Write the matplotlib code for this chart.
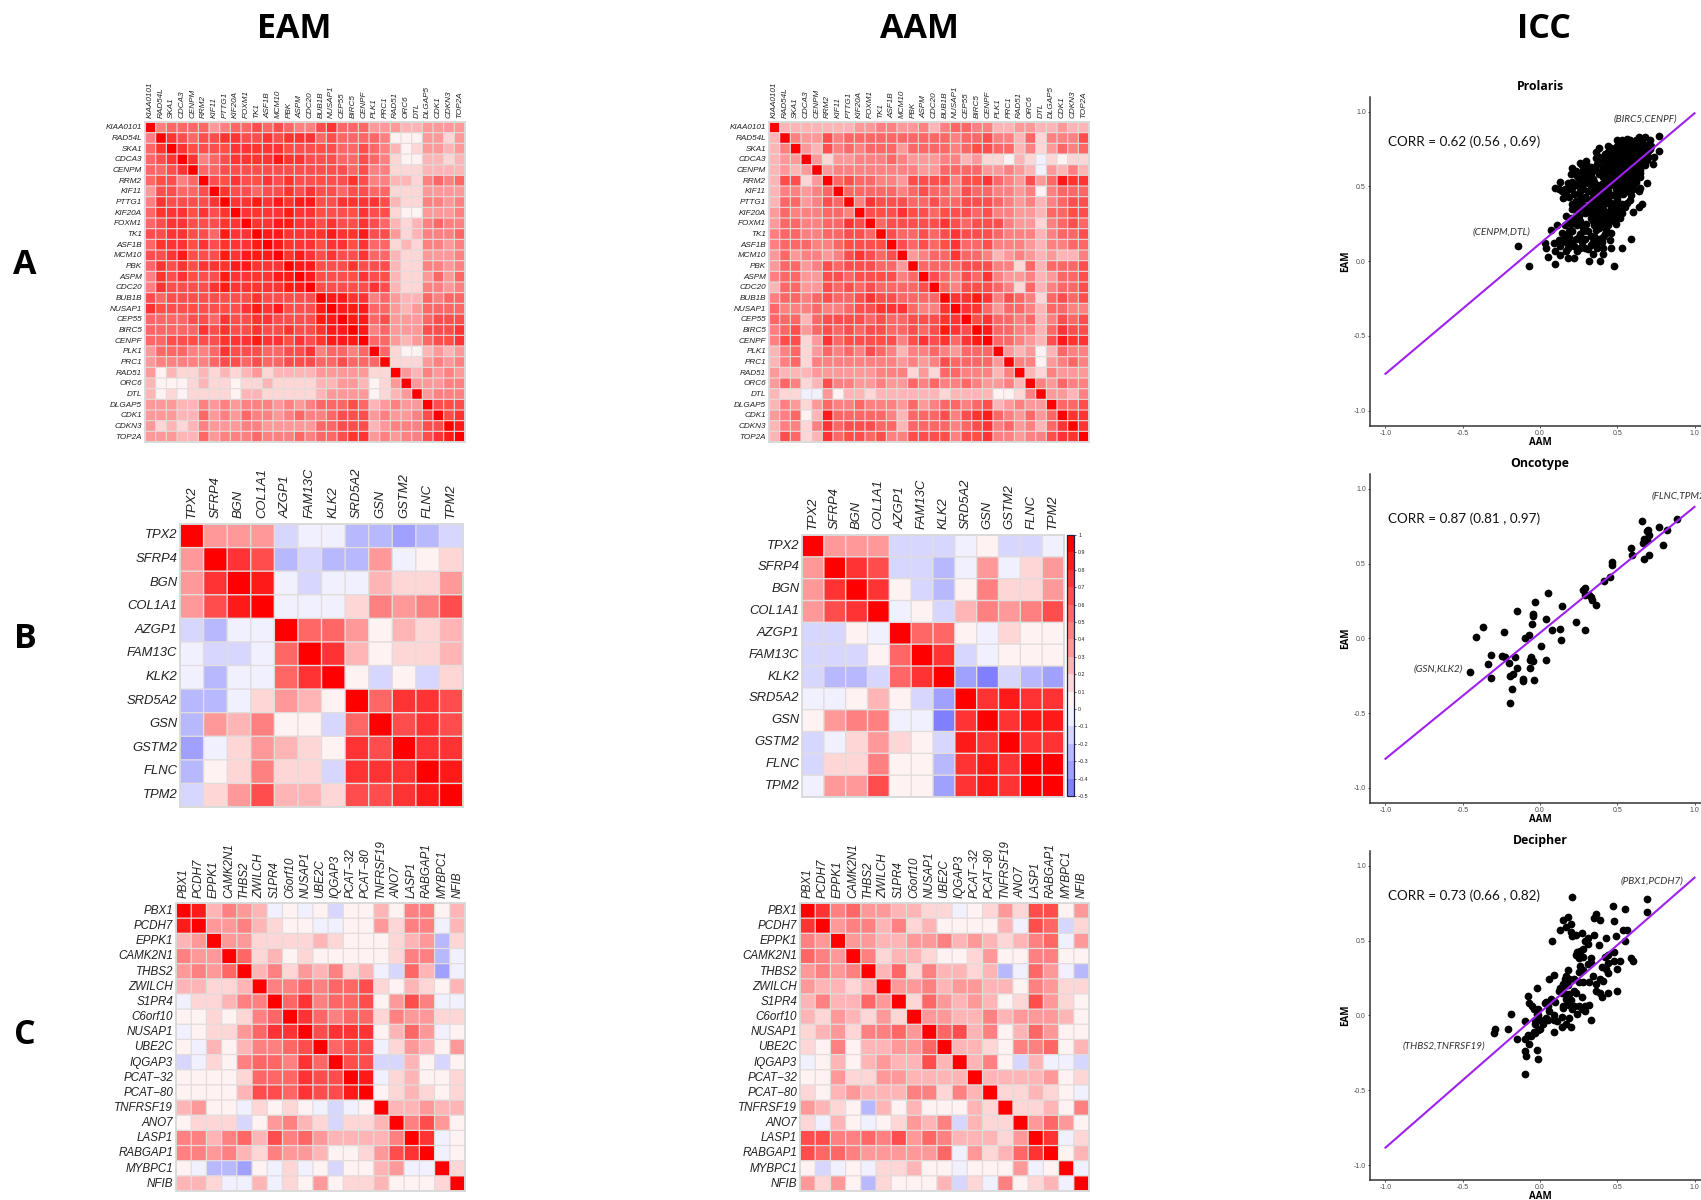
import numpy as np
import matplotlib
matplotlib.use('Agg')
import matplotlib.pyplot as plt
from matplotlib.colors import ListedColormap, BoundaryNorm
from matplotlib.cm import ScalarMappable
from matplotlib.transforms import ScaledTranslation

W, H = 1701, 1200

genes_a = ['KIAA0101', 'RAD54L', 'SKA1', 'CDCA3', 'CENPM', 'RRM2', 'KIF11', 'PTTG1', 'KIF20A', 'FOXM1',
           'TK1', 'ASF1B', 'MCM10', 'PBK', 'ASPM', 'CDC20', 'BUB1B', 'NUSAP1', 'CEP55', 'BIRC5',
           'CENPF', 'PLK1', 'PRC1', 'RAD51', 'ORC6', 'DTL', 'DLGAP5', 'CDK1', 'CDKN3', 'TOP2A']
genes_b = ['TPX2', 'SFRP4', 'BGN', 'COL1A1', 'AZGP1', 'FAM13C', 'KLK2', 'SRD5A2', 'GSN', 'GSTM2', 'FLNC', 'TPM2']
genes_c = ['PBX1', 'PCDH7', 'EPPK1', 'CAMK2N1', 'THBS2', 'ZWILCH', 'S1PR4', 'C6orf10', 'NUSAP1', 'UBE2C',
           'IQGAP3', 'PCAT\u221232', 'PCAT\u221280', 'TNFRSF19', 'ANO7', 'LASP1', 'RABGAP1', 'MYBPC1', 'NFIB']

# correlations in tenths, rounded down to the colour bin
eam_a = [
    [9,4,5,5,5,5,3,4,5,5,6,5,6,5,4,4,6,7,5,5,5,3,3,3,2,2,3,3,3,3],
    [4,9,7,6,5,6,6,7,7,6,6,7,6,7,7,7,5,6,5,5,5,5,4,0,0,0,3,3,1,3],
    [5,7,9,7,6,6,6,6,7,7,7,7,7,6,6,6,6,6,5,5,6,5,4,2,0,1,3,3,2,3],
    [5,6,7,9,7,4,5,6,7,7,7,7,8,7,7,6,6,6,5,5,6,5,4,1,0,0,2,2,1,2],
    [5,5,6,7,9,5,5,6,6,6,6,6,6,6,6,6,6,6,6,5,6,4,4,1,1,1,2,2,2,2],
    [5,6,6,4,5,9,6,6,7,6,6,7,6,7,6,6,6,6,6,7,6,4,4,2,2,1,4,5,4,5],
    [3,6,6,5,5,6,9,7,6,6,5,6,6,7,6,7,6,6,5,6,6,5,5,1,1,1,3,3,3,3],
    [4,7,6,6,6,6,7,9,7,7,8,7,8,7,8,8,6,6,7,7,7,7,6,2,1,1,4,4,3,4],
    [5,7,7,7,6,7,6,7,9,7,7,7,7,8,7,7,6,6,6,6,7,6,6,1,0,0,3,3,3,4],
    [5,6,7,7,6,6,6,7,7,9,7,7,8,8,7,7,6,7,6,6,7,6,5,2,1,2,4,5,4,4],
    [6,6,7,7,6,6,5,8,7,7,9,8,8,7,7,7,7,8,7,7,8,6,6,3,1,2,4,4,4,5],
    [5,7,7,7,6,7,6,7,7,7,8,9,8,7,7,7,6,7,7,6,7,5,5,1,2,1,4,4,3,4],
    [6,6,7,8,6,6,6,8,7,8,8,8,9,7,8,7,6,7,6,6,7,5,5,2,1,1,3,3,3,4],
    [5,7,6,7,6,7,7,7,8,8,7,7,7,9,8,8,6,6,6,7,6,6,6,2,1,1,4,4,3,4],
    [4,7,6,7,6,6,6,8,7,7,7,7,8,8,9,8,6,6,6,6,7,6,6,2,1,1,3,5,3,5],
    [4,7,6,6,6,6,7,8,7,7,7,7,7,8,8,9,6,6,6,6,6,7,6,2,1,1,4,4,3,4],
    [6,5,6,6,6,6,6,6,6,6,7,6,6,6,6,6,9,8,8,7,7,4,5,3,2,2,5,4,5,5],
    [7,6,6,6,6,6,6,6,6,7,8,7,8,6,6,6,8,9,8,8,8,5,5,3,2,3,5,5,5,5],
    [5,5,5,5,6,6,5,7,6,6,7,7,6,6,6,6,8,8,9,8,8,5,6,3,3,3,5,6,6,6],
    [5,5,5,5,5,7,6,7,6,6,7,6,6,7,6,6,7,8,8,9,8,4,5,3,3,3,6,6,6,7],
    [5,5,6,6,6,6,6,7,7,7,8,7,7,6,7,6,7,8,8,8,9,5,5,3,2,3,5,6,6,7],
    [3,5,5,5,4,4,5,7,6,6,6,5,5,6,6,7,4,5,5,4,5,9,5,1,0,0,2,3,2,3],
    [3,4,4,4,4,4,5,6,6,5,6,5,5,6,6,6,5,5,6,5,5,5,9,1,1,1,3,4,3,4],
    [3,0,2,1,1,2,1,2,1,2,3,1,2,2,2,2,3,3,3,3,3,1,1,9,3,2,4,3,4,3],
    [2,0,0,0,1,2,1,1,0,1,1,2,1,1,1,1,2,2,3,3,2,0,1,3,9,3,3,3,4,4],
    [2,0,1,0,1,1,1,1,0,2,2,1,1,1,1,1,2,3,3,3,3,0,1,2,3,9,3,4,4,4],
    [3,3,3,2,2,4,3,4,3,4,4,4,3,4,3,4,5,5,5,6,5,2,3,4,3,3,9,6,6,6],
    [3,3,3,2,2,5,3,4,3,5,4,4,3,4,5,4,4,5,6,6,6,3,4,3,3,4,6,9,6,7],
    [3,1,2,1,2,4,3,3,3,4,4,3,3,3,3,3,5,5,6,6,6,2,3,4,4,4,6,6,9,8],
    [3,3,3,2,2,5,3,4,4,4,5,4,4,4,5,4,5,5,6,7,7,3,4,3,4,4,6,7,8,9],
]
aam_a = [
    [9,2,2,2,2,2,2,2,3,3,4,4,3,3,4,2,4,5,5,4,4,2,2,3,3,2,2,3,2,2],
    [2,9,4,3,3,6,4,5,5,5,5,5,5,5,5,5,5,4,5,5,6,4,4,2,5,1,4,4,4,6],
    [2,4,9,3,2,6,4,5,4,5,5,5,3,5,5,5,5,4,5,6,6,5,5,2,4,1,3,5,4,5],
    [2,3,3,9,3,1,3,3,4,4,4,5,4,3,3,3,4,4,2,3,1,1,0,2,1,-1,1,0,1,1],
    [2,3,2,3,9,3,4,4,4,4,4,4,4,4,3,3,5,5,5,5,3,3,4,3,2,-1,3,2,4,2],
    [2,6,6,1,3,9,5,6,5,5,4,4,3,6,6,6,6,4,6,6,7,5,4,3,6,3,5,8,7,7],
    [2,4,4,3,4,5,9,5,5,5,5,5,4,5,6,5,5,4,6,5,5,4,4,3,4,0,4,5,5,5],
    [2,5,5,3,4,6,5,9,4,7,6,6,6,5,5,6,5,5,6,6,6,5,4,3,4,2,4,5,6,6],
    [3,5,4,4,4,5,5,4,9,6,6,6,7,6,6,5,6,6,6,5,6,4,4,3,3,2,5,5,6,6],
    [3,5,5,4,4,5,5,7,6,9,5,6,6,6,6,6,7,6,5,6,6,6,4,3,3,1,4,5,6,5],
    [4,5,5,4,4,5,5,6,6,5,9,6,5,5,6,5,6,7,6,6,6,5,4,4,4,2,4,5,5,6],
    [4,5,5,5,4,4,5,6,6,6,6,9,6,5,6,5,6,7,5,5,6,4,4,4,3,2,4,4,5,5],
    [3,5,3,4,4,3,4,6,7,6,5,6,9,3,4,5,5,7,5,5,4,2,3,4,3,2,3,2,2,4],
    [3,5,5,3,4,6,5,6,6,6,5,5,3,9,5,5,5,5,6,6,6,4,4,1,5,2,5,5,5,6],
    [4,5,5,3,3,6,6,5,6,6,6,6,4,5,9,6,5,4,6,5,7,4,3,3,4,2,3,5,5,6],
    [2,5,5,3,3,6,5,6,5,6,5,5,5,5,6,9,5,4,6,6,6,5,4,1,5,2,4,5,5,6],
    [4,5,5,4,5,6,5,5,6,7,6,6,5,5,5,5,9,7,7,8,7,4,6,5,4,1,5,6,5,6],
    [5,4,4,4,5,4,4,5,6,6,7,7,7,5,4,4,7,9,7,7,5,3,5,5,4,2,5,5,4,4],
    [5,5,5,2,5,6,6,6,6,5,6,5,5,6,6,6,7,7,9,6,7,5,5,4,5,2,4,6,5,6],
    [4,5,6,3,5,6,5,6,5,6,6,5,5,6,5,6,8,7,6,9,8,5,5,4,4,2,5,7,6,6],
    [4,6,6,1,3,7,5,6,6,6,6,6,4,6,7,6,7,5,7,8,9,5,5,4,3,2,6,8,7,7],
    [2,4,5,1,3,5,4,5,4,6,5,4,2,4,4,5,4,3,5,5,5,9,3,2,3,0,2,5,4,4],
    [2,4,5,1,4,4,4,4,4,4,4,4,3,4,3,4,6,5,5,5,5,3,9,4,4,0,3,4,5,4],
    [3,2,2,2,3,3,3,3,3,3,4,4,4,1,3,1,5,5,4,4,4,2,4,9,2,1,4,3,3,3],
    [3,5,4,1,2,6,4,4,3,3,4,3,3,5,4,5,4,4,5,4,3,3,4,2,9,4,3,5,4,4],
    [2,1,1,-1,-1,3,0,2,2,1,2,2,2,2,2,2,1,2,2,2,2,0,0,1,4,9,3,3,2,4],
    [2,4,3,1,3,5,4,4,5,4,4,4,3,5,3,4,5,5,4,5,6,2,3,4,3,3,9,5,5,6],
    [3,4,5,0,2,8,5,5,5,5,5,4,2,5,5,5,6,4,6,7,8,5,4,3,5,3,5,9,7,7],
    [2,4,4,1,4,7,5,6,6,6,5,5,2,5,5,5,5,4,5,6,7,4,5,3,4,2,5,7,9,7],
    [2,6,5,1,2,7,5,6,6,5,6,4,4,6,6,6,6,4,6,6,7,4,4,3,4,4,6,7,7,9],
]
eam_b = [
    [9,3,3,3,-2,-1,-1,-3,-3,-4,-3,-2],
    [3,9,7,6,-3,-2,-3,-3,3,-1,0,1],
    [3,7,9,8,-1,-2,-1,-1,2,1,1,3],
    [3,6,8,9,-1,-1,-1,1,4,3,4,6],
    [-2,-3,-1,-1,9,5,5,3,0,2,1,2],
    [-1,-2,-2,-1,5,9,7,2,0,1,1,2],
    [-1,-3,-1,-1,5,7,9,0,-2,0,-2,1],
    [-3,-3,-1,1,3,2,0,9,5,7,7,6],
    [-3,3,2,4,0,0,-2,5,9,6,7,6],
    [-4,-1,1,3,2,1,0,7,6,9,7,7],
    [-3,0,1,4,1,1,-2,7,7,7,9,8],
    [-2,1,3,6,2,2,1,6,6,7,8,9],
]
aam_b = [
    [9,3,3,3,-2,-2,-2,-1,0,-2,-2,-1],
    [3,9,7,6,-2,-2,-3,-1,3,-1,1,3],
    [3,7,9,7,0,-2,-3,0,4,1,1,3],
    [3,6,7,9,-1,0,-2,2,4,3,4,6],
    [-2,-2,0,-1,9,5,5,0,-1,1,0,0],
    [-2,-2,-2,0,5,9,7,-2,-1,0,0,0],
    [-2,-3,-3,-2,5,7,9,-4,-5,-2,-3,-4],
    [-1,-1,0,2,0,-2,-4,9,7,8,7,7],
    [0,3,4,4,-1,-1,-5,7,9,7,8,8],
    [-2,-1,1,3,1,0,-2,8,7,9,7,7],
    [-2,1,1,4,0,0,-3,7,8,7,9,9],
    [-1,3,3,6,0,0,-4,7,8,7,9,9],
]
eam_c = [
    [9,8,2,4,3,2,-1,0,-1,0,-2,0,0,2,0,4,4,0,2],
    [8,9,3,3,4,2,1,0,0,-1,-1,0,0,3,1,4,4,-1,2],
    [2,3,9,3,3,1,1,1,1,2,1,0,0,0,1,2,3,-3,1],
    [4,3,3,9,5,1,2,0,1,0,0,0,0,0,1,4,4,-3,-1],
    [3,4,3,5,9,2,4,1,3,2,4,1,2,-1,-2,5,2,-4,-1],
    [2,2,1,1,2,9,4,4,5,4,5,5,6,1,0,2,1,0,2],
    [-1,1,1,2,4,4,9,5,7,4,5,5,6,0,3,6,4,-1,-1],
    [0,0,1,0,1,4,5,9,7,5,4,5,5,1,4,3,3,1,1],
    [-1,0,1,1,3,5,7,7,9,6,7,7,7,0,2,5,3,-1,0],
    [0,-1,2,0,2,4,4,5,6,9,5,6,6,-1,1,3,2,0,3],
    [-2,-1,1,0,4,5,5,4,7,5,9,6,6,-2,-2,2,0,-2,0],
    [0,0,0,0,1,5,5,5,7,6,6,9,8,-1,1,2,0,0,1],
    [0,0,0,0,2,6,6,5,7,6,6,8,9,0,1,2,1,0,1],
    [2,3,0,0,-1,1,0,1,0,-1,-2,-1,0,9,2,2,3,2,2],
    [0,1,1,1,-2,0,3,4,2,1,-2,1,1,2,9,4,6,3,0],
    [4,4,2,4,5,2,6,4,5,3,2,2,2,2,4,9,7,-1,0],
    [4,4,3,4,2,1,4,3,3,2,0,0,1,3,6,7,9,-1,0],
    [0,-1,-3,-3,-4,0,-1,1,-1,0,-2,0,0,2,3,-1,-1,9,1],
    [2,2,1,-1,-1,2,-1,1,0,3,0,1,1,2,0,0,0,1,9],
]
aam_c = [
    [9,7,4,5,3,3,2,2,1,1,-1,0,1,3,1,6,6,0,3],
    [7,9,3,4,4,2,4,1,2,0,0,0,0,2,-1,6,5,-2,1],
    [4,3,9,3,3,2,2,3,3,4,2,3,2,1,2,4,5,-1,3],
    [5,4,3,9,4,1,2,2,1,0,0,1,3,0,0,4,4,0,0],
    [3,4,3,4,9,2,5,1,4,2,2,1,2,-3,-1,5,3,-1,-3],
    [3,2,2,1,2,9,3,3,4,2,3,3,2,2,0,4,3,1,1],
    [2,4,2,2,5,3,9,1,5,3,2,3,2,0,1,6,3,1,0],
    [2,1,3,2,1,3,1,9,3,3,2,2,4,2,3,3,3,2,0],
    [1,2,3,1,4,4,5,3,9,5,6,2,4,0,2,5,3,0,0],
    [1,0,4,0,2,2,3,3,5,9,2,2,1,0,4,4,5,0,2],
    [-1,0,2,0,2,3,2,2,6,2,9,2,4,0,-2,2,-1,-1,-2],
    [0,0,3,1,1,3,3,2,2,2,2,9,2,2,2,2,3,0,1],
    [1,0,2,3,2,2,2,4,4,1,4,2,9,1,1,2,1,0,-1],
    [3,2,1,0,-3,2,0,2,0,0,0,2,1,9,1,1,2,0,4],
    [1,-1,2,0,-1,0,1,3,2,4,-2,2,1,1,9,3,5,3,0],
    [6,6,4,4,5,4,6,3,5,4,2,2,2,1,3,9,7,-1,1],
    [6,5,5,4,3,3,3,3,3,5,-1,3,1,2,5,7,9,0,2],
    [0,-2,-1,0,-1,1,1,2,0,0,-1,0,0,0,3,-1,0,9,-1],
    [3,1,3,0,-3,1,0,0,0,2,-2,1,-1,4,0,1,2,-1,9],
]

bin_colors = ['#8080FF', '#A0A0FF', '#B8B8FF', '#D6D6FF', '#F0F0FF',
              '#FFF2F2', '#FFD6D6', '#FFB5B5', '#FF9999', '#FF8080',
              '#FF6666', '#FF4D4D', '#FF3333', '#FF1A1A', '#FF0000']
bin_edges = list(range(-5, 11))
bar_labels = ['\u22120.5', '\u22120.4', '\u22120.3', '\u22120.2', '\u22120.1', '0', '0.1', '0.2',
              '0.3', '0.4', '0.5', '0.6', '0.7', '0.8', '0.9', '1']

# (AAM, EAM) pairs of each gene panel
prolaris = [
    (-.14,.10),(-.07,-.03),(.10,-.02),(.32,0),(.39,0),(.48,-.03),(.53,.09),(.59,.15),(.05,.03),(.10,.07),
    (.04,.09),(.03,.12),(.09,.12),(.07,.21),(.11,.24),(.13,.04),(.18,.02),(.22,.02),(.24,.07),(.18,.09),
    (.17,.13),(.14,.19),(.19,.20),(.21,.20),(.23,.15),(.27,.13),(.31,.08),(.34,.05),(.37,.09),(.41,.09),
    (.41,.05),(.46,.09),(.45,.14),(.46,.19),(.41,.16),(.37,.13),(.33,.17),(.28,.23),(.28,.20),(.36,.21),
    (.43,.21),(.49,.25),(.35,.24),(.40,.25),(.22,.28),(.25,.30),(.17,.30),(.29,.32),(.35,.30),(.42,.30),
    (.47,.30),(.53,.32),(.60,.33),(.64,.36),(.66,.38),(.56,.39),(.53,.38),(.49,.37),(.43,.39),(.37,.39),
    (.32,.35),(.25,.35),(.21,.38),(.24,.37),(.15,.42),(.19,.43),(.25,.45),(.30,.42),(.10,.49),(.13,.53),
    (.16,.48),(.19,.48),(.23,.51),(.28,.48),(.31,.47),(.41,.44),(.47,.44),(.54,.45),(.59,.44),(.64,.47),
    (.65,.49),(.69,.52),(.58,.49),(.52,.49),(.45,.51),(.39,.51),(.33,.52),(.28,.54),(.24,.57),(.20,.58),
    (.21,.62),(.26,.66),(.30,.67),(.28,.61),(.32,.61),(.36,.69),(.38,.76),(.36,.73),(.40,.68),(.41,.63),
    (.38,.58),(.43,.56),(.47,.57),(.52,.57),(.57,.57),(.63,.57),(.65,.61),(.73,.65),(.74,.70),(.77,.74),
    (.77,.84),(.68,.83),(.64,.83),(.53,.81),(.50,.81),(.45,.76),(.59,.78),(.65,.78),(.69,.78),(.72,.77),
    (.47,.72),(.52,.74),(.56,.72),(.61,.73),(.67,.72),(.70,.70),(.44,.69),(.50,.68),(.54,.69),(.59,.68),
    (.65,.68),(.68,.64),(.45,.64),(.51,.63),(.56,.63),(.61,.62),(.44,.60),(.50,.60),(.55,.60),(.60,.59),
    (.27,.58),(.30,.56),(.33,.58),(.35,.62),(.31,.52),(.36,.47),(.34,.42),(.39,.35),(.44,.33),(.40,.30),
    (.36,.34),(.33,.29),(.37,.25),(.42,.26),(.46,.36),(.50,.42),(.55,.50),(.62,.53),(.48,.52),(.42,.48),
    (.26,.40),(.30,.37),(.20,.29),(.24,.24),(.30,.25),(.16,.17),(.20,.12),(.25,.16),(.29,.15),(.34,.13),
    (.38,.15),(.42,.18),(.35,.17),(.22,.10),(.26,.09),(.13,.10),(.46,.76),(.50,.77),(.55,.78),(.60,.76),
    (.63,.80),(.49,.70),(.57,.70),(.63,.66),(.52,.66),(.48,.66),(.46,.61),(.58,.65),(.55,.55),(.49,.55),
    (.42,.53),(.62,.60),(.66,.75),(.70,.74),(.58,.81),(.54,.75),(.42,.66),(.40,.60),
    (.51,.80),(.56,.82),(.61,.79),(.62,.81),(.66,.80),(.71,.81),(.44,.77),(.48,.75),(.51,.76),(.57,.77),
    (.58,.74),(.62,.76),(.64,.75),(.68,.76),(.71,.75),(.42,.72),(.44,.73),(.49,.71),(.50,.73),(.54,.72),
    (.58,.71),(.60,.73),(.63,.71),(.65,.73),(.69,.71),(.38,.70),(.42,.68),(.46,.67),(.48,.69),(.52,.68),
    (.56,.67),(.57,.69),(.62,.68),(.67,.67),(.69,.68),(.27,.64),(.30,.65),(.33,.63),(.37,.65),(.43,.63),
    (.47,.64),(.49,.65),(.53,.64),(.54,.62),(.58,.63),(.60,.65),(.64,.63),(.66,.65),(.23,.60),(.30,.59),
    (.33,.60),(.36,.61),(.42,.59),(.48,.61),(.52,.60),(.58,.60),(.62,.62),(.65,.59),(.25,.55),(.31,.57),
    (.34,.55),(.41,.56),(.45,.55),(.50,.57),(.54,.56),(.59,.55),(.61,.56),(.65,.56),(.18,.52),(.21,.53),
    (.27,.51),(.35,.53),(.37,.51),(.41,.52),(.44,.53),(.50,.51),(.53,.52),(.57,.53),(.60,.51),(.12,.48),
    (.14,.47),(.21,.49),(.26,.47),(.33,.48),(.39,.49),(.44,.47),(.49,.48),(.56,.47),(.60,.48),(.17,.44),
    (.22,.45),(.29,.43),(.34,.45),(.38,.44),(.44,.45),(.50,.44),(.52,.46),(.23,.40),(.27,.41),(.33,.39),
    (.36,.41),(.40,.40),(.44,.41),(.46,.39),(.50,.40),(.58,.41),(.21,.35),(.28,.37),(.34,.36),(.38,.37),
    (.41,.35),(.47,.34),(.51,.35),(.55,.36),(.24,.32),(.31,.33),(.34,.32),(.39,.31),(.43,.32),(.45,.31),
    (.50,.33),(.19,.28),(.26,.27),(.34,.27),(.36,.28),(.39,.28),(.45,.27),(.48,.28),(.52,.29),(.16,.24),
    (.20,.25),(.36,.23),(.38,.22),(.44,.24),(.15,.14),(.19,.16),(.26,.18),(.31,.20),(.40,.13),(.33,.11),
    (.29,.09),(.17,.07),(.12,.14),
]
oncotype = [
    (-.455,-.225),(-.416,.011),(-.366,.073),(-.235,.04),(-.151,.185),(-.032,.243),(.05,.305),(-.043,.163),
    (-.047,.147),(-.05,.094),(.037,.129),(.144,.218),(.231,.109),(.08,.053),(.131,.06),(.136,-.009),
    (.291,.056),(-.071,.022),(-.099,0),(.009,-.049),(.041,-.147),(-.315,-.114),(-.336,-.169),(-.319,-.267),
    (-.246,-.118),(-.226,-.127),(-.162,-.122),(-.198,-.165),(-.151,-.2),(-.058,-.127),(-.065,-.145),
    (-.043,-.149),(-.065,-.2),(-.177,-.241),(-.194,-.252),(-.11,-.274),(-.11,-.287),(-.041,-.281),
    (-.181,-.341),(-.194,-.434),(.28,.325),(.293,.334),(.291,.29),(.319,.29),(.328,.274),(.334,.256),
    (.36,.223),(.412,.385),(.45,.412),(.463,.514),(.463,.494),(.59,.606),(.595,.557),(.659,.784),
    (.675,.532),(.703,.557),(.696,.728),(.692,.717),(.707,.69),(.672,.666),(.664,.641),(.694,.655),
    (.769,.744),(.819,.728),(.888,.797),(.795,.628),
]
decipher = [
    (.21,.79),(.47,.73),(.55,.71),(.69,.78),(.69,.69),(.36,.68),(.35,.65),(.39,.64),(.48,.63),(.18,.66),
    (.15,.64),(.20,.61),(.17,.59),(.13,.57),(.20,.56),(.21,.53),(.23,.54),(.27,.55),(.35,.54),(.43,.52),
    (.49,.53),(.54,.57),(.56,.57),(.55,.50),(.08,.50),(.31,.52),(.29,.50),(.31,.48),(.38,.47),(.28,.44),
    (.26,.43),(.24,.42),(.23,.40),(.25,.38),(.28,.39),(.25,.41),(.33,.38),(.42,.39),(.44,.40),(.48,.42),
    (.31,.34),(.33,.35),(.26,.33),(.44,.35),(.48,.36),(.52,.36),(.59,.38),(.60,.36),(.40,.32),(.43,.31),
    (.50,.31),(.44,.28),(.25,.29),(.28,.30),(.18,.30),(.34,.26),(.09,.27),(.06,.24),(.17,.26),(.16,.24),
    (.19,.24),(.15,.21),(.15,.19),(.22,.24),(.25,.22),(.28,.22),(.32,.22),(.36,.21),(.39,.24),(.41,.23),
    (-.02,.18),(.12,.16),(.14,.15),(.22,.16),(.23,.15),(.27,.12),(.36,.16),(.39,.15),(.40,.12),(.44,.15),
    (.50,.16),(-.08,.13),(.07,.11),(.17,.11),(.18,.09),(.19,.07),(.10,.09),(.04,.09),(-.07,.08),(-.05,.06),
    (-.04,.04),(-.01,.04),(.03,.08),(.05,.06),(.15,.06),(.15,.05),(.22,.06),(.25,.06),(.27,.04),(.29,.03),
    (.32,.07),(.29,.06),(-.19,.01),(-.02,.01),(-.01,0),(.09,0),(.06,.03),(.24,.01),(.14,-.01),(.19,-.02),
    (.33,-.03),(-.10,-.04),(-.03,-.03),(0,-.03),(.04,-.02),(.05,-.03),(.09,-.03),(.11,-.04),(-.03,-.06),
    (.02,-.06),(0,-.09),(-.01,-.10),(-.04,-.11),(-.06,-.14),(.17,-.06),(.14,-.08),(.20,-.08),(.09,-.11),
    (-.29,-.09),(-.30,-.12),(-.21,-.09),(-.15,-.16),(-.10,-.16),(-.07,-.19),(-.10,-.24),(-.02,-.23),
    (-.09,-.27),(-.01,-.29),(-.08,-.13),(-.03,-.12),(.21,.04),(.19,.14),(.17,.14),(.20,.10),(.13,.18),
    (.18,.20),(-.10,-.39),
]

panel_names = ['Prolaris', 'Oncotype', 'Decipher']
panel_points = [prolaris, oncotype, decipher]
fit_aam = [-1, 1]
fit_eam = [[-.753, .989], [-.806, .88], [-.884, .92]]
corr_text = ['CORR = 0.62 (0.56 , 0.69)', 'CORR = 0.87 (0.81 , 0.97)', 'CORR = 0.73 (0.66 , 0.82)']
notes = [
    [('(BIRC5,CENPF)', .68, .953, 'center'), ('(CENPM,DTL)', -.25, .198, 'center')],
    [('(FLNC,TPM2)', .724, .953, 'left'), ('(GSN,KLK2)', -.657, -.203, 'center')],
    [('(PBX1,PCDH7)', .728, .90, 'center'), ('(THBS2,TNFRSF19)', -.619, -.203, 'center')],
]
scale_ticks = [-1, -.5, 0, .5, 1]


def px_axes(x0, y0, x1, y1):
    return fig.add_axes([x0 / W, 1 - y1 / H, (x1 - x0) / W, (y1 - y0) / H])


def heat(box, values, labels, fsize, grid, top_pad, lift):
    ax = px_axes(*box)
    n = len(labels)
    ax.pcolormesh(np.arange(n + 1), np.arange(n + 1), np.array(values), cmap=cmap, norm=norm,
                  edgecolors='none', antialiased=False)
    # grid lines without pixel snapping so all cell gaps come out even
    for lines in (ax.vlines(np.arange(n + 1), 0, n, colors='#e2dcdc', linewidth=grid),
                  ax.hlines(np.arange(n + 1), 0, n, colors='#e2dcdc', linewidth=grid)):
        lines.set_snap(False)
    ax.set_xlim(0, n)
    ax.set_ylim(n, 0)
    ax.xaxis.tick_top()
    ax.set_xticks(np.arange(n) + .5)
    ax.set_yticks(np.arange(n) + .5)
    ax.set_xticklabels(labels, rotation=90, fontsize=fsize, style='italic', color='#222222')
    ax.set_yticklabels(labels, fontsize=fsize, style='italic', color='#222222')
    ax.tick_params(length=0, pad=2)
    ax.tick_params(axis='x', pad=top_pad)
    # row names sit a little above the middle of their cells
    for lab in ax.get_yticklabels():
        lab.set_transform(lab.get_transform() + ScaledTranslation(0, lift / 72, fig.dpi_scale_trans))
    for s in ax.spines.values():
        s.set_color('#d9d9d9')
        s.set_linewidth(1.3)
    return ax


cmap = ListedColormap(bin_colors)
norm = BoundaryNorm(bin_edges, cmap.N)
plt.rcParams['font.family'] = ['Liberation Sans', 'DejaVu Sans']

fig = plt.figure(figsize=(W / 100, H / 100), dpi=100, facecolor='white')

heat((145, 122, 465, 442), eam_a, genes_a, 5.9, .8, 3, .3)
heat((769, 122, 1089, 442), aam_a, genes_a, 5.9, .8, 3, .3)
heat((180, 524, 463, 807), eam_b, genes_b, 9.4, 1.0, 4.2, 1.3)
heat((802, 535, 1064, 797), aam_b, genes_b, 9.4, 1.0, 4.2, 1.3)
heat((176, 903, 465, 1191), eam_c, genes_c, 8.4, .9, 3.6, .8)
heat((800, 903, 1089, 1191), aam_c, genes_c, 8.4, .9, 3.6, .8)

# colour key next to the AAM panel of row B
cax = px_axes(1067, 535, 1074, 796)
cb = fig.colorbar(ScalarMappable(norm=norm, cmap=cmap), cax=cax, spacing='proportional')
cb.set_ticks(bin_edges)
cb.set_ticklabels(bar_labels)
cb.ax.tick_params(labelsize=3.8, length=1.5, width=.5, pad=1.5, color='#222222', labelcolor='#222222')
cb.minorticks_off()
cb.outline.set_edgecolor('#222244')
cb.outline.set_linewidth(.9)

sans = ['Open Sans', 'DejaVu Sans']
for title, cx in zip(['EAM', 'AAM', 'ICC'], [294, 919, 1544]):
    fig.text(cx / W, 1 - 29 / H, title, fontsize=24.5, fontweight='bold', family=sans, ha='center', va='center')
for letter, cy in zip(['A', 'B', 'C'], [265, 639, 1035]):
    fig.text(25 / W, 1 - cy / H, letter, fontsize=24.5, fontweight='bold', family=sans, ha='center', va='center')

tops = [96.7, 474, 850.7]
bottoms = [425.7, 802.7, 1180]
for i in range(3):
    ax = px_axes(1370, tops[i], 1701, bottoms[i])
    ax.set_xlim(-1.1, 1.042)
    ax.set_ylim(-1.1, 1.1)
    pts = np.array(panel_points[i])
    ax.scatter(pts[:, 0], pts[:, 1], s=31, color='black', linewidths=0, zorder=2)
    ax.plot(fit_aam, fit_eam[i], color='#A020F0', lw=1.5, zorder=3)
    ax.spines['top'].set_visible(False)
    ax.spines['right'].set_visible(False)
    ax.spines['left'].set_color('#333333')
    ax.spines['bottom'].set_color('#333333')
    ax.spines['left'].set_linewidth(1.1)
    ax.spines['bottom'].set_linewidth(1.1)
    ax.set_xticks(scale_ticks)
    ax.set_yticks(scale_ticks)
    ax.set_xticklabels(['-1.0', '-0.5', '0.0', '0.5', '1.0'], clip_on=False)
    ax.set_yticklabels(['-1.0', '-0.5', '0.0', '0.5', '1.0'])
    ax.tick_params(labelsize=5, length=1.5, width=.6, pad=1.5, colors='#333333', labelcolor='#4d4d4d')
    ax.set_xlabel('AAM', fontsize=7, fontweight='bold', family=sans)
    ax.xaxis.set_label_coords((0 + 1.1) / 2.142, -.034)
    ax.set_ylabel('EAM', fontsize=7, fontweight='bold', family=sans)
    ax.yaxis.set_label_coords(-.057, .5)
    ax.annotate(panel_names[i], xy=(0, 1), xycoords=('data', 'axes fraction'), xytext=(0, 7.4),
                textcoords='offset points', ha='center', va='center', fontsize=8.8, fontweight='bold', family=sans)
    ax.text(-.983, .80, corr_text[i], fontsize=9.7, family=['Lato', 'DejaVu Sans'], va='center', color='#111111')
    for note, nx, ny, nha in notes[i]:
        ax.text(nx, ny, note, fontsize=7.2, style='italic', family=['Lato', 'DejaVu Sans'],
                ha=nha, va='center', color='#333333', clip_on=True)

fig.savefig('out.png', dpi=100, facecolor='white')
